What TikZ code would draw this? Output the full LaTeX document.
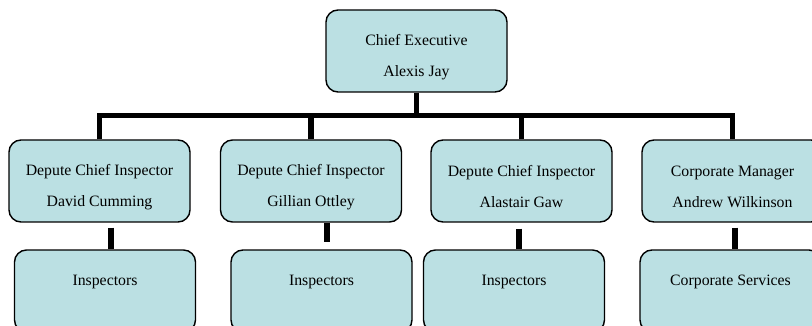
\documentclass[tikz,border=0pt]{standalone}
\usepackage{fontspec}
\setmainfont{Liberation Serif}
\usetikzlibrary{positioning}
\definecolor{postfill}{HTML}{BBE0E3}
\tikzset{
  post/.style={draw, line width=1.4pt, rounded corners=12pt, fill=postfill,
    minimum width=181pt, minimum height=82pt, inner sep=0pt, align=center,
    font=\fontsize{15.8}{31}\selectfont, text height=53.5pt},
  unit/.style={post, text height=11pt, text depth=23pt},
  link/.style={line width=5.5pt, line join=miter},
}
\begin{document}
\begin{tikzpicture}[x=1pt,y=-1pt]
\clip (0,0) rectangle (812,326);
% chief executive
\node[post] (chief) at (416.5,51) {Chief Executive\\Alexis Jay};
% deputes and corporate manager
\node[post] (dep1) at (99.5,181) {Depute Chief Inspector\\David Cumming};
\node[post] (dep2) at (311,181) {Depute Chief Inspector\\Gillian Ottley};
\node[post] (dep3) at (521.5,181) {Depute Chief Inspector\\Alastair Gaw};
\node[post] (dep4) at (732.5,181) {Corporate Manager\\Andrew Wilkinson};
% units
\node[unit] (insp1) at (105,291) {Inspectors};
\node[unit] (insp2) at (321.5,291) {Inspectors};
\node[unit] (insp3) at (514,291) {Inspectors};
\node[unit] (insp4) at (730.5,291) {Corporate Services};
% bus bar
\coordinate (bus) at (0,115.5);
\draw[link] (chief.south) -- (chief.south |- bus);
\draw[link] (dep1.north) -- (dep1.north |- bus) -- (dep4.north |- bus) -- (dep4.north);
\draw[link] (dep2.north) -- (dep2.north |- bus);
\draw[link] (dep3.north) -- (dep3.north |- bus);
% stubs down to the units
\foreach \i/\a/\b/\s/\e in {1/11.5pt/6pt/5pt/0pt, 2/16pt/5.5pt/0pt/7pt,
    3/-2.5pt/5pt/6pt/0pt, 4/2.5pt/4.5pt/5pt/0pt}
  \draw[link, shorten <=\s, shorten >=\e]
    ([xshift=\a]dep\i.south) -- ([xshift=\b]insp\i.north);
\end{tikzpicture}
\end{document}
